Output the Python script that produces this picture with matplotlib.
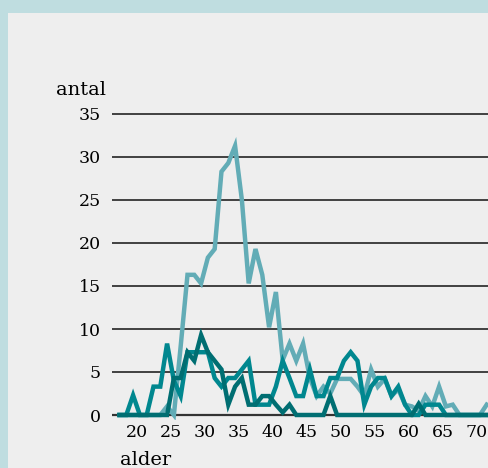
import matplotlib
matplotlib.use("Agg")
import matplotlib.pyplot as plt
from matplotlib.patches import Rectangle

# alder 17..71
alder = list(range(17, 72))

serie_a = [0, 0, 0, 0, 0, 0, 0, 1.0, 0, 8.0,
           16.3, 16.3, 15.3, 18.3, 19.3, 28.3, 29.3, 31.3, 25.0, 15.3,
           19.3, 16.3, 10.2, 14.3, 6.4, 8.3, 6.3, 8.3, 4.3, 2.2,
           3.3, 2.5, 4.2, 4.2, 4.2, 3.3, 2.2, 5.3, 3.3, 4.2,
           2.2, 3.0, 1.2, 1.0, 0.5, 2.2, 1.0, 3.3, 1.0, 1.2,
           0, 0, 0, 0, 1.2]

serie_b = [0, 0, 2.3, 0, 0, 3.3, 3.3, 8.3, 4.0, 2.2,
           7.3, 7.3, 7.3, 7.3, 4.3, 3.3, 4.3, 4.3, 5.3, 6.3,
           1.2, 1.2, 1.2, 3.3, 6.3, 4.3, 2.2, 2.2, 5.3, 2.2,
           2.2, 4.3, 4.3, 6.3, 7.3, 6.3, 1.2, 3.3, 4.3, 4.3,
           2.2, 3.3, 1.2, 0, 0, 1.2, 1.2, 1.2, 0, 0,
           0, 0, 0, 0, 0]

serie_c = [0, 0, 0, 0, 0, 0, 0, 0, 4.3, 4.3,
           7.3, 6.3, 9.3, 7.3, 6.3, 5.3, 1.2, 3.3, 4.3, 1.2,
           1.2, 2.2, 2.2, 1.2, 0.3, 1.2, 0, 0, 0, 0,
           0, 2.2, 0, 0, 0, 0, 0, 0, 0, 0,
           0, 0, 0, 0, 1.3, 0, 0, 0, 0, 0,
           0, 0, 0, 0, 0]

y_ticks = [0, 5, 10, 15, 20, 25, 30, 35]
x_ticks = [20, 25, 30, 35, 40, 45, 50, 55, 60, 65, 70]

W, H = 489, 468
fig = plt.figure(figsize=(W / 100, H / 100), dpi=100)
fig.patch.set_facecolor("#bfdde0")
fig.patches.append(Rectangle((8 / W, 0), 1, (H - 13) / H, transform=fig.transFigure,
                             facecolor="#eeeeee", edgecolor="none", zorder=-10))

# 8.6 px per enhet, 0 ved y=415 px; litt luft over og under
pad = 0.6
ax = fig.add_axes([112 / W, (H - 415 - pad * 8.6) / H, 1 - 112 / W, (301 + 2 * pad * 8.6) / H])
ax.set_facecolor("none")
ax.set_zorder(2)

# punkt midt i aldersåret
x = [a + 0.5 for a in alder]
ax.plot(x, serie_a, color="#62acb6", lw=3.2, solid_joinstyle="miter", zorder=3)
ax.plot(x, serie_b, color="#00878f", lw=3.2, solid_joinstyle="miter", zorder=4)
ax.plot(x, serie_c, color="#006e72", lw=3.2, solid_joinstyle="miter", zorder=5)

ax.set_xlim(16.4, 71.84)
ax.set_ylim(-pad, 35 + pad)
for v in y_ticks[1:]:
    ax.axhline(v, color="#333333", lw=1.3, zorder=1)
ax.axhline(0, color="#333333", lw=1.6, zorder=2)

for s in ax.spines.values():
    s.set_visible(False)
ax.set_yticks(y_ticks)
ax.set_xticks(x_ticks)
ax.tick_params(length=0, labelsize=12.5)
ax.tick_params(axis="x", pad=3)
ax.tick_params(axis="y", pad=8)
for lab in ax.get_xticklabels() + ax.get_yticklabels():
    lab.set_family("DejaVu Serif")

fig.text(56 / W, (H - 95) / H, "antal", family="DejaVu Serif",
         fontsize=14, ha="left", va="baseline")
fig.text(120 / W, (H - 465) / H, "alder", family="DejaVu Serif",
         fontsize=14, ha="left", va="baseline")

fig.savefig("out.png", dpi=100)
